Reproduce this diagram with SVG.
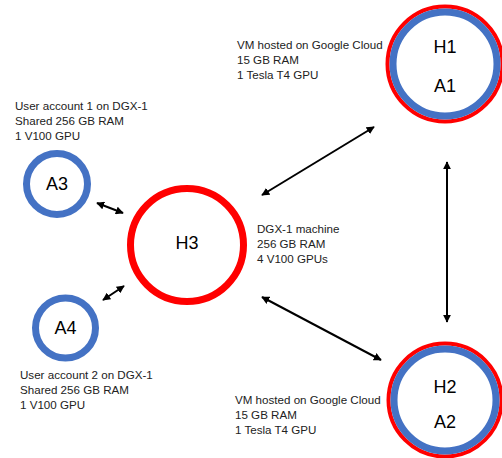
<svg xmlns="http://www.w3.org/2000/svg" width="502" height="458" viewBox="0 0 502 458">
<defs>
<style>
.lbl{font-family:"Liberation Sans",Arial,sans-serif;font-size:11.6px;fill:#222}
.nt{font-family:"Liberation Sans",Arial,sans-serif;font-size:18px;fill:#000;text-anchor:middle;dominant-baseline:central}
.red{fill:none;stroke:#ff0000}
.blue{fill:none;stroke:#4472c4}
.conn{stroke:#000;stroke-width:2;fill:none;marker-start:url(#ah);marker-end:url(#ah)}
</style>
<marker id="ah" viewBox="0 0 10 10" refX="9" refY="5" markerWidth="4" markerHeight="4" orient="auto-start-reverse" markerUnits="strokeWidth">
<path d="M0,0 L10,5 L0,10 z" fill="#000"/>
</marker>
</defs>
<rect width="502" height="458" fill="#fff"/>
<g id="H1">
<circle class="red" cx="445" cy="64" r="57.5" stroke-width="4"/>
<circle class="blue" cx="445" cy="64" r="52" stroke-width="7"/>
<text class="nt" x="445" y="47">H1</text>
<text class="nt" x="445" y="86">A1</text>
</g>
<g id="H2">
<circle class="red" cx="445" cy="400" r="56.5" stroke-width="4"/>
<circle class="blue" cx="445" cy="400" r="51" stroke-width="7"/>
<text class="nt" x="445" y="387">H2</text>
<text class="nt" x="445" y="422">A2</text>
</g>
<g id="H3">
<circle class="red" cx="187" cy="245" r="56.5" stroke-width="7"/>
<text class="nt" x="187" y="243">H3</text>
</g>
<g id="A3">
<circle class="blue" cx="57" cy="184" r="30.5" stroke-width="7"/>
<text class="nt" x="57" y="184">A3</text>
</g>
<g id="A4">
<circle class="blue" cx="65.5" cy="328" r="30" stroke-width="7"/>
<text class="nt" x="65.5" y="328">A4</text>
</g>
<g id="labels">
<text class="lbl" x="237" y="49">VM hosted on Google Cloud</text>
<text class="lbl" x="237" y="64">15 GB RAM</text>
<text class="lbl" x="237" y="79">1 Tesla T4 GPU</text>
<text class="lbl" x="15" y="110">User account 1 on DGX-1</text>
<text class="lbl" x="15" y="125">Shared 256 GB RAM</text>
<text class="lbl" x="15" y="140">1 V100 GPU</text>
<text class="lbl" x="257" y="233">DGX-1 machine</text>
<text class="lbl" x="257" y="248">256 GB RAM</text>
<text class="lbl" x="257" y="263">4 V100 GPUs</text>
<text class="lbl" x="20" y="379">User account 2 on DGX-1</text>
<text class="lbl" x="20" y="394">Shared 256 GB RAM</text>
<text class="lbl" x="20" y="409">1 V100 GPU</text>
<text class="lbl" x="235" y="404">VM hosted on Google Cloud</text>
<text class="lbl" x="235" y="419">15 GB RAM</text>
<text class="lbl" x="235" y="434">1 Tesla T4 GPU</text>
</g>
<g id="connectors">
<line class="conn" x1="97" y1="203" x2="123" y2="213"/>
<line class="conn" x1="103" y1="300" x2="124" y2="286"/>
<line class="conn" x1="262" y1="195" x2="374" y2="127"/>
<line class="conn" x1="262" y1="297" x2="381" y2="360"/>
<line class="conn" x1="447" y1="162" x2="447" y2="322"/>
</g>
</svg>
